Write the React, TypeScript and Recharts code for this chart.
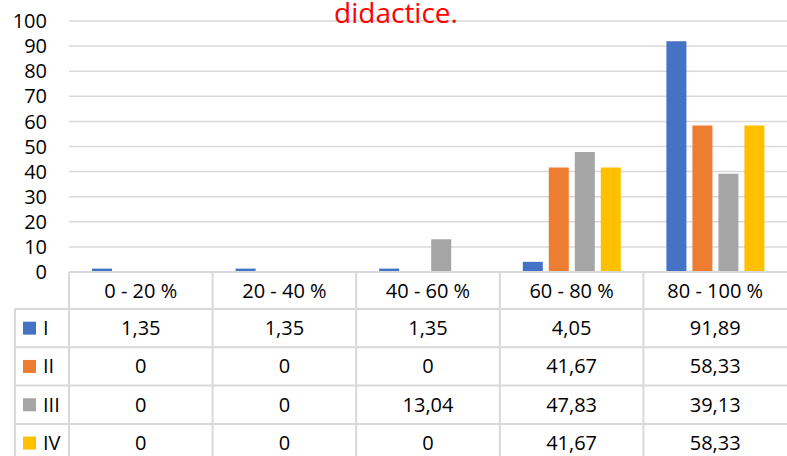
import { BarChart, Bar, XAxis, YAxis, CartesianGrid } from 'recharts'

const categories = ['0 - 20 %', '20 - 40 %', '40 - 60 %', '60 - 80 %', '80 - 100 %']
const seriesNames = ['I', 'II', 'III', 'IV']
const seriesColors = ['#4472c4', '#ed7d31', '#a5a5a5', '#ffc000']
const valuesI = [1.35, 1.35, 1.35, 4.05, 91.89]
const valuesII = [0, 0, 0, 41.67, 58.33]
const valuesIII = [0, 0, 13.04, 47.83, 39.13]
const valuesIV = [0, 0, 0, 41.67, 58.33]
const yTicks = [0, 10, 20, 30, 40, 50, 60, 70, 80, 90, 100]

const allSeries = [valuesI, valuesII, valuesIII, valuesIV]
const data = categories.map((c, i) => ({ cat: c, I: valuesI[i], II: valuesII[i], III: valuesIII[i], IV: valuesIV[i] }))

const fmt = (v: number) => (Number.isInteger(v) ? String(v) : v.toFixed(2).replace('.', ','))

const FONT = '"Open Sans", sans-serif'
const W = 787
const H = 456
const plotLeft = 69
const colW = (W - plotLeft) / categories.length
const tableTop = 272
const headH = 37
const rowH = 38.3
const line = '#d9d9d9'

function Table() {
  const rows = seriesNames.map((_, i) => tableTop + headH + i * rowH)
  return (
    <svg width={W} height={H} style={{ position: 'absolute', left: 0, top: 0, pointerEvents: 'none' }}>
      <text x={396} y={23} textAnchor="middle" fill="#ff0000" fontSize={28} fontFamily={FONT}>didactice.</text>
      <line x1={plotLeft} x2={W} y1={tableTop} y2={tableTop} stroke={line} strokeWidth={2} />
      {rows.map((y, i) => (
        <line key={'h' + i} x1={15} x2={W} y1={y} y2={y} stroke={line} strokeWidth={2} />
      ))}
      <line x1={15} x2={15} y1={tableTop + headH} y2={H} stroke={line} strokeWidth={2} />
      {categories.map((_, i) => (
        <line key={'v' + i} x1={plotLeft + i * colW} x2={plotLeft + i * colW} y1={tableTop} y2={H} stroke={line} strokeWidth={2} />
      ))}
      {categories.map((c, i) => (
        <text key={'c' + i} x={plotLeft + (i + 0.5) * colW} y={tableTop + headH / 2} dy="0.35em" textAnchor="middle" fontSize={20} fontFamily={FONT} fill="#000">{c}</text>
      ))}
      {seriesNames.map((s, r) => (
        <g key={'r' + r}>
          <rect x={23} y={rows[r] + rowH / 2 - 6.5} width={13} height={13} fill={seriesColors[r]} />
          <text x={43} y={rows[r] + rowH / 2} dy="0.35em" fontSize={20} fontFamily={FONT} fill="#000">{s}</text>
          {allSeries[r].map((v, i) => (
            <text key={i} x={plotLeft + (i + 0.5) * colW} y={rows[r] + rowH / 2} dy="0.35em" textAnchor="middle" fontSize={20} fontFamily={FONT} fill="#000">{fmt(v)}</text>
          ))}
        </g>
      ))}
    </svg>
  )
}

export default function App() {
  return (
    <div style={{ position: 'absolute', left: 0, top: 0, width: W, height: H, background: '#fff', overflow: 'hidden' }}>
      <BarChart width={W} height={292} data={data} margin={{ top: 21, right: 0, bottom: 20, left: 0 }} barSize={20} barGap={6}>
        <CartesianGrid vertical={false} stroke={line} strokeWidth={1.5} />
        <XAxis dataKey="cat" hide />
        <YAxis width={plotLeft} domain={[0, 100]} ticks={yTicks} interval={0} axisLine={false} tickLine={false} tickMargin={16}
          tick={{ fontSize: 20, fill: '#000', fontFamily: FONT }} />
        {seriesNames.map((s, i) => (
          <Bar key={s} dataKey={s} fill={seriesColors[i]} isAnimationActive={false} />
        ))}
      </BarChart>
      <Table />
    </div>
  )
}
